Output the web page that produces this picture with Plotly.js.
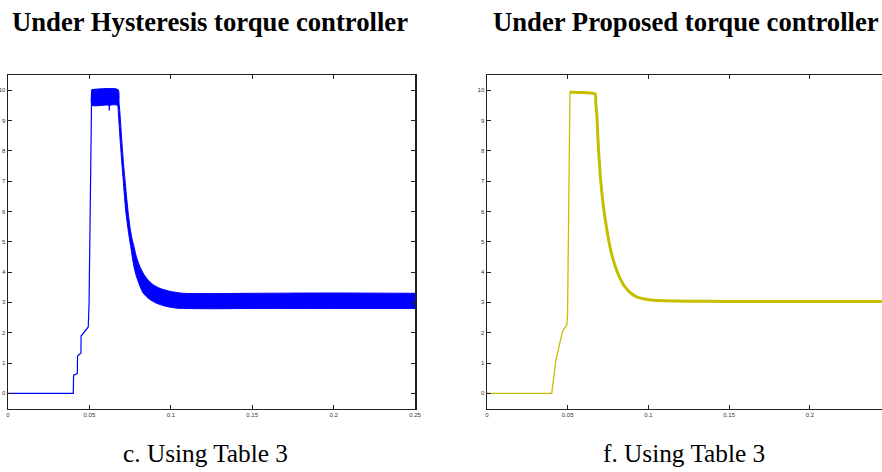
<!DOCTYPE html>
<html>
<head>
<meta charset="utf-8">
<script src="https://cdn.plot.ly/plotly-3.0.1.min.js"></script>
<style>
  html, body { margin: 0; padding: 0; background: #fff; }
  #chart { width: 882px; height: 472px; }
</style>
</head>
<body>
<div id="chart"></div>
<script>
// ---------- data ----------
const xTickVals = [0, 0.05, 0.1, 0.15, 0.2, 0.25];
const xTickText = ['0', '0.05', '0.1', '0.15', '0.2', '0.25'];
const yTickVals = [0, 1, 2, 3, 4, 5, 6, 7, 8, 9, 10];
const yTickText = ['0', '1', '2', '3', '4', '5', '6', '7', '8', '9', '10'];

// Hysteresis controller: rise (single line)
const hystRiseT = [0, 0.0401, 0.0403, 0.0426, 0.0427, 0.0448, 0.0449, 0.0493, 0.0498, 0.0514];
const hystRiseY = [0, 0, 0.6, 0.65, 1.23, 1.33, 1.89, 2.19, 3.0, 10.0];

// Hysteresis controller: ripple band, lower envelope
const hystLowerT = [0.0514, 0.0517, 0.0618, 0.0622, 0.0626, 0.0672, 0.0678, 0.0685, 0.0692, 0.0700, 0.0708, 0.0716, 0.0725, 0.0739, 0.0754, 0.0764, 0.0774, 0.0785, 0.0797, 0.0813, 0.0831, 0.0870, 0.0913, 0.0970, 0.1036, 0.125, 0.15, 0.2, 0.25];
const hystLowerY = [10.0, 9.5, 9.5, 9.33, 9.5, 9.5, 9.22, 8.65, 8.12, 7.55, 7.03, 6.45, 5.93, 5.35, 4.83, 4.48, 4.17, 3.93, 3.73, 3.50, 3.30, 3.10, 2.97, 2.87, 2.81, 2.79, 2.80, 2.80, 2.80];

// Hysteresis controller: ripple band, upper envelope
const hystUpperT = [0.0514, 0.0676, 0.0682, 0.0688, 0.0695, 0.0702, 0.0710, 0.0719, 0.0729, 0.0739, 0.0750, 0.0762, 0.0774, 0.0790, 0.0811, 0.0835, 0.0862, 0.0895, 0.0934, 0.1000, 0.1075, 0.125, 0.15, 0.2, 0.25];
const hystUpperY = [10.02, 10.02, 9.6, 9.22, 8.65, 8.12, 7.55, 7.03, 6.45, 5.93, 5.45, 5.10, 4.83, 4.48, 4.17, 3.92, 3.73, 3.57, 3.46, 3.36, 3.30, 3.29, 3.30, 3.31, 3.30];

// Proposed controller
const propT = [0, 0.0401, 0.0427, 0.0452, 0.0468, 0.0495, 0.0499, 0.0514, 0.0530, 0.0600, 0.0669, 0.0674, 0.0680, 0.0685, 0.0690, 0.0697, 0.0704, 0.0715, 0.0727, 0.0744, 0.0762, 0.0782, 0.0803, 0.0828, 0.0855, 0.0890, 0.0927, 0.0975, 0.1030, 0.125, 0.15, 0.2, 0.25];
const propY = [0, 0, 1.1, 1.7, 2.05, 2.27, 2.6, 9.95, 9.93, 9.92, 9.88, 9.55, 9.22, 8.65, 8.12, 7.55, 7.03, 6.45, 5.93, 5.35, 4.83, 4.40, 4.06, 3.75, 3.51, 3.31, 3.18, 3.11, 3.07, 3.04, 3.03, 3.03, 3.03];
const propRiseEnd = 7;

const titles = ['Under Hysteresis torque controller', 'Under Proposed torque controller'];
const captions = ['c. Using Table 3', 'f. Using Table 3'];

// ---------- styles ----------
const BLUE = '#0000ff';
const OLIVE = '#c4c000';

const traces = [
  { x: hystRiseT, y: hystRiseY, type: 'scatter', mode: 'lines',
    line: { color: BLUE, width: 1.2 }, xaxis: 'x', yaxis: 'y', hoverinfo: 'skip' },
  { x: hystLowerT, y: hystLowerY, type: 'scatter', mode: 'lines',
    line: { color: BLUE, width: 1, shape: 'spline', smoothing: 0.6 }, xaxis: 'x', yaxis: 'y', hoverinfo: 'skip' },
  { x: hystUpperT, y: hystUpperY, type: 'scatter', mode: 'lines', fill: 'tonexty',
    fillcolor: BLUE, line: { color: BLUE, width: 1, shape: 'spline', smoothing: 0.6 }, xaxis: 'x', yaxis: 'y', hoverinfo: 'skip' },
  { x: propT.slice(0, propRiseEnd + 1), y: propY.slice(0, propRiseEnd + 1), type: 'scatter', mode: 'lines',
    line: { color: OLIVE, width: 1.3 }, xaxis: 'x2', yaxis: 'y2', hoverinfo: 'skip' },
  { x: propT.slice(propRiseEnd), y: propY.slice(propRiseEnd), type: 'scatter', mode: 'lines',
    line: { color: OLIVE, width: 3, shape: 'spline', smoothing: 0.6 }, xaxis: 'x2', yaxis: 'y2', hoverinfo: 'skip' }
];

const W = 882, H = 472;
const tickFont = { family: 'Liberation Sans', size: 6, color: '#333' };
function xAx(domain, range, mirror) {
  return {
    domain: domain, range: range, tickmode: 'array', tickvals: xTickVals, ticktext: xTickText,
    ticks: 'inside', ticklen: 4, tickwidth: 1, tickcolor: '#222',
    showline: true, linecolor: '#222', linewidth: 1.5, mirror: mirror,
    showgrid: false, zeroline: false, tickfont: tickFont, fixedrange: true
  };
}
function yAx(anchor, mirror) {
  return {
    anchor: anchor, domain: [1 - 408.5 / H, 1 - 75 / H], range: [-0.5, 10.5],
    tickmode: 'array', tickvals: yTickVals, ticktext: yTickText,
    ticks: 'inside', ticklen: 4, tickwidth: 1, tickcolor: '#222',
    showline: true, linecolor: '#222', linewidth: 1.5, mirror: mirror,
    showgrid: false, zeroline: false, tickfont: tickFont, fixedrange: true
  };
}

const xa = xAx([8 / W, 415 / W], [0, 0.25], 'ticks'); xa.anchor = 'y';
const xa2 = xAx([487 / W, 1], [0, 0.2447], 'ticks'); xa2.anchor = 'y2';

const titleFont = { family: 'Liberation Serif', size: 26.7, color: '#000' };
const capFont = { family: 'Liberation Serif', size: 25.3, color: '#000' };

const layout = {
  width: W, height: H,
  margin: { l: 0, r: 0, t: 0, b: 0, pad: 0 },
  paper_bgcolor: '#fff', plot_bgcolor: '#fff',
  showlegend: false,
  xaxis: xa, yaxis: yAx('x', 'ticks'),
  xaxis2: xa2, yaxis2: yAx('x2', false),
  annotations: [
    { text: '<b>' + titles[0] + '</b>', x: 210 / W, y: 1 - 22 / H, xref: 'paper', yref: 'paper',
      xanchor: 'center', yanchor: 'middle', showarrow: false, font: titleFont },
    { text: '<b>' + titles[1] + '</b>', x: 686 / W, y: 1 - 22 / H, xref: 'paper', yref: 'paper',
      xanchor: 'center', yanchor: 'middle', showarrow: false, font: titleFont },
    { text: captions[0], x: 205 / W, y: 1 - 453 / H, xref: 'paper', yref: 'paper',
      xanchor: 'center', yanchor: 'middle', showarrow: false, font: capFont },
    { text: captions[1], x: 684 / W, y: 1 - 453 / H, xref: 'paper', yref: 'paper',
      xanchor: 'center', yanchor: 'middle', showarrow: false, font: capFont }
  ]
};

Plotly.newPlot('chart', traces, layout, { displayModeBar: false, staticPlot: true });
</script>
</body>
</html>
